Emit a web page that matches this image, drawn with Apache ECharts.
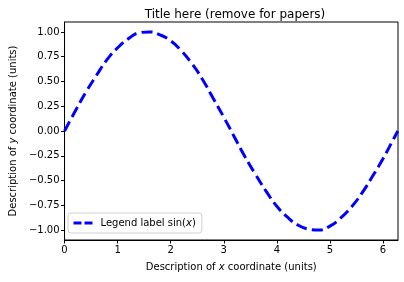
<!DOCTYPE html>
<html><head><meta charset="utf-8">
<script src="https://cdn.jsdelivr.net/npm/echarts@6/dist/echarts.min.js"></script>
<style>html,body{margin:0;padding:0;background:#fff}#c{width:404px;height:282px}</style>
</head><body><div id="c"></div>
<script>
var xValues = [0,0.2,0.4,0.6,0.8,1.0,1.2,1.4,1.6,1.8,2.0,2.2,2.4,2.6,2.8,3.0,3.2,3.4,3.6,3.8,4.0,4.2,4.4,4.6,4.8,5.0,5.2,5.4,5.6,5.8,6.0,6.2,6.28];
var yValues = [0,0.20,0.39,0.56,0.72,0.84,0.93,0.99,1.00,0.97,0.91,0.81,0.68,0.52,0.33,0.14,-0.06,-0.26,-0.44,-0.61,-0.76,-0.87,-0.95,-0.99,-1.00,-0.96,-0.88,-0.77,-0.63,-0.46,-0.28,-0.08,0.00];
var xTicks = [0,1,2,3,4,5,6];
var yTicks = [-1,-0.75,-0.5,-0.25,0,0.25,0.5,0.75,1];

var F = 'DejaVu Sans';
var data = xValues.map(function(x,i){return [x,yValues[i]];});
var chart = echarts.init(document.getElementById('c'), null, {renderer:'canvas'});
chart.setOption({
  animation:false,
  textStyle:{fontFamily:F, color:'#000'},
  title:{text:'Title here (remove for papers)', left:230, textAlign:'center', top:4,
    textStyle:{fontFamily:F, fontSize:12, fontWeight:'normal', color:'#000'}},
  grid:{left:63, right:6, top:22, bottom:42, show:true, borderColor:'#000', borderWidth:1, containLabel:false},
  legend:{left:68, top:213, orient:'vertical', itemWidth:22, itemHeight:10, itemGap:4,
    padding:[5,6,5,4], backgroundColor:'rgba(255,255,255,0.8)', borderColor:'#d0d0d0', borderWidth:1, borderRadius:3,
    itemStyle:{opacity:0},
    lineStyle:{color:'#0000ff', width:3, type:[8,3]},
    textStyle:{fontFamily:F, fontSize:10, color:'#000',
      rich:{a:{fontFamily:F,fontSize:10,color:'#000'}, i:{fontFamily:F,fontSize:10,fontStyle:'italic',color:'#000'}}},
    formatter:function(){return '{a|Legend label sin(}{i|x}{a|)}';},
    data:['sin']
  },
  xAxis:{type:'value', min:0, max:6.283185307, 
    name:'{a|Description of }{i|x}{a| coordinate (units)}', nameLocation:'middle', nameGap:22,
    nameTextStyle:{rich:{a:{fontFamily:F,fontSize:10,color:'#000'}, i:{fontFamily:F,fontSize:10,fontStyle:'italic',color:'#000'}}},
    axisLine:{show:true, onZero:false, lineStyle:{color:'#000', width:1}},
    axisTick:{show:true, inside:false, length:3.5, lineStyle:{color:'#000'}, customValues:xTicks},
    axisLabel:{fontFamily:F, fontSize:10, color:'#000', margin:5, customValues:xTicks, formatter:function(v){return String(v);}},
    splitLine:{show:false}},
  yAxis:{type:'value', min:-1.1, max:1.1,
    name:'{a|Description of }{i|y}{a| coordinate (units)}', nameLocation:'middle', nameGap:44, nameRotate:90,
    nameTextStyle:{rich:{a:{fontFamily:F,fontSize:10,color:'#000'}, i:{fontFamily:F,fontSize:10,fontStyle:'italic',color:'#000'}}},
    axisLine:{show:true, onZero:false, lineStyle:{color:'#000', width:1}},
    axisTick:{show:true, inside:false, length:3.5, lineStyle:{color:'#000'}, customValues:yTicks},
    axisLabel:{fontFamily:F, fontSize:10, color:'#000', margin:5, customValues:yTicks,
      formatter:function(v){return (v<0?'\u2212':'')+Math.abs(v).toFixed(2);}},
    splitLine:{show:false}},
  series:[{name:'sin', type:'line', data:data, smooth:true, symbol:'none',
    lineStyle:{color:'#0000ff', width:3, type:[11,5]}, itemStyle:{color:'#0000ff'}}]
});
</script></body></html>
